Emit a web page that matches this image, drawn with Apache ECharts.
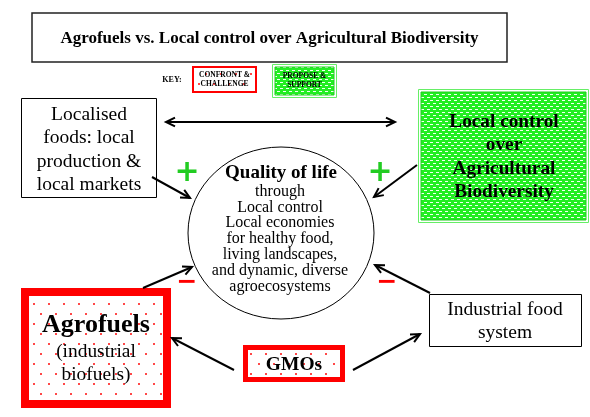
<!DOCTYPE html>
<html><head><meta charset="utf-8">
<script src="https://cdn.jsdelivr.net/npm/echarts@6/dist/echarts.min.js"></script>
<style>html,body{margin:0;padding:0;background:#fff}#c{width:590px;height:417px}</style>
</head><body><div id="c"></div>
<script>
// ---- content ----
const titleText = 'Agrofuels vs. Local control over Agricultural Biodiversity';
const keyTitle = 'KEY:';
const keyLabels = [['CONFRONT &', 'CHALLENGE'], ['PROPOSE &', 'SUPPORT']];
const localisedLines = ['Localised', 'foods: local', 'production &', 'local markets'];
const localControlLines = ['Local control', 'over', 'Agricultural', 'Biodiversity'];
const qualityTitle = 'Quality of life';
const qualityLines = ['through', 'Local control', 'Local economies', 'for healthy food,', 'living landscapes,', 'and dynamic, diverse', 'agroecosystems'];
const agrofuelsTitle = 'Agrofuels';
const agrofuelsLines = ['(industrial', 'biofuels)'];
const industrialLines = ['Industrial food', 'system'];
const gmoLabel = 'GMOs';
const effectSigns = ['+', '+', '\u2212', '\u2212'];

// ---- styling helpers ----
const SERIF = '"Liberation Serif", "Times New Roman", serif';
const RED = '#ff0000';
const GREEN = '#22ee22';
const PLUS_GREEN = '#22cc22';

function redDots() {
  const c = document.createElement('canvas'); c.width = 15; c.height = 20;
  const g = c.getContext('2d');
  g.fillStyle = '#fff'; g.fillRect(0, 0, 15, 20);
  g.fillStyle = 'rgba(255,40,40,0.85)';
  g.fillRect(3, 3, 2, 2); g.fillRect(10, 13, 2, 2);
  return c;
}
function greenWeave() {
  const c = document.createElement('canvas'); c.width = 6; c.height = 6;
  const g = c.getContext('2d');
  g.fillStyle = GREEN; g.fillRect(0, 0, 6, 6);
  g.fillStyle = 'rgba(255,255,255,0.95)';
  g.fillRect(1, 1, 3, 1);
  g.fillRect(4, 4, 2, 1);
  g.fillRect(0, 4, 1, 1);
  return c;
}
const redPat = { image: redDots(), repeat: 'repeat' };
const greenPat = { image: greenWeave(), repeat: 'repeat' };

function txt(s, x, y, size, bold, color, family) {
  return { type: 'text', z: 20, style: {
    text: s, x: x, y: y, fill: color || '#000',
    font: (bold ? 'bold ' : '') + size + 'px ' + (family || SERIF),
    align: 'center', verticalAlign: 'middle' } };
}
function lines(arr, x, y0, lh, size, bold) {
  return arr.map((s, i) => txt(s, x, y0 + i * lh, size, bold));
}
function rect(x, y, w, h, stroke, lw, fill, z) {
  return { type: 'rect', z: z || 5, shape: { x: x, y: y, width: w, height: h },
    style: { stroke: stroke, lineWidth: lw, fill: fill || 'none' } };
}
function head(x1, y1, x2, y2) {
  const a = Math.atan2(y2 - y1, x2 - x1), L = 10, t = 0.45;
  return { type: 'polyline', z: 15, shape: { points: [
    [x2 - L * Math.cos(a - t), y2 - L * Math.sin(a - t)], [x2, y2],
    [x2 - L * Math.cos(a + t), y2 - L * Math.sin(a + t)]] },
    style: { stroke: '#000', lineWidth: 2, fill: 'none', lineJoin: 'miter' } };
}
function arrow(x1, y1, x2, y2, both) {
  const out = [{ type: 'line', z: 15, shape: { x1: x1, y1: y1, x2: x2, y2: y2 },
    style: { stroke: '#000', lineWidth: 2 } }, head(x1, y1, x2, y2)];
  if (both) out.push(head(x2, y2, x1, y1));
  return out;
}

const els = [];
// title
els.push(rect(32, 13, 475, 49, '#222', 1.5, '#fff'));
els.push(txt(titleText, 269.5, 39, 17, true));
// key
els.push(txt(keyTitle, 172, 80, 8, true));
els.push(rect(193, 67, 63, 25, RED, 2, redPat));
els.push(...lines(keyLabels[0], 224.5, 75, 9, 7.5, true));
els.push(rect(272.5, 64.5, 64, 33, '#66ee66', 1, '#fff'));
els.push(rect(275, 67, 59, 28, '#22cc22', 1, greenPat));
els.push(...lines(keyLabels[1], 304.5, 76, 9, 7.5, true));
// localised foods box
els.push(rect(21.5, 98.5, 135, 99, '#000', 1, '#fff'));
els.push(...lines(localisedLines, 89, 115, 23.3, 19.5, false));
// local control box
els.push(rect(418.5, 89.5, 170, 133, '#66ee66', 1, '#fff'));
els.push(rect(421, 92, 165, 128, '#22cc22', 1, greenPat));
els.push(...lines(localControlLines, 504, 122, 23.3, 19.3, true));
// circle
els.push({ type: 'ellipse', z: 4, shape: { cx: 281, cy: 233, rx: 93, ry: 86 },
  style: { stroke: '#000', lineWidth: 1, fill: '#fff' } });
els.push(txt(qualityTitle, 281, 173, 19, true));
els.push(...lines(qualityLines, 280, 191.5, 15.8, 16, false));
// agrofuels box
els.push(rect(25, 292, 142, 112, RED, 8, redPat));
els.push(txt(agrofuelsTitle, 96, 325, 26, true));
els.push(...lines(agrofuelsLines, 96, 352, 23, 19.4, false));
// industrial food system
els.push(rect(429.5, 294.5, 152, 52, '#000', 1, '#fff'));
els.push(...lines(industrialLines, 505, 310, 23, 19.5, false));
// GMOs
els.push(rect(245.5, 347.5, 97, 32, RED, 5, redPat));
els.push(txt(gmoLabel, 294, 365, 19.5, true));
// arrows
els.push(...arrow(395, 122, 166, 122, true));
els.push(...arrow(152, 177, 190, 198));
els.push(...arrow(417, 165, 374, 197));
els.push(...arrow(430, 293, 375, 265));
els.push(...arrow(143, 288, 192, 267));
els.push(...arrow(234, 370, 172, 338));
els.push(...arrow(353, 370, 420, 334));
// signs
const signPos = [[187, 173, PLUS_GREEN, 30], [380, 173, PLUS_GREEN, 30], [187, 282, RED, 25], [387, 282, RED, 25]];
effectSigns.forEach((s, i) => {
  const p = signPos[i];
  els.push(txt(s, p[0], p[1], p[3], true, p[2], '"DejaVu Sans", sans-serif'));
});

const chart = echarts.init(document.getElementById('c'), null, { renderer: 'canvas' });
chart.setOption({ backgroundColor: '#fff', animation: false, graphic: { elements: els } });
</script>
</body></html>
